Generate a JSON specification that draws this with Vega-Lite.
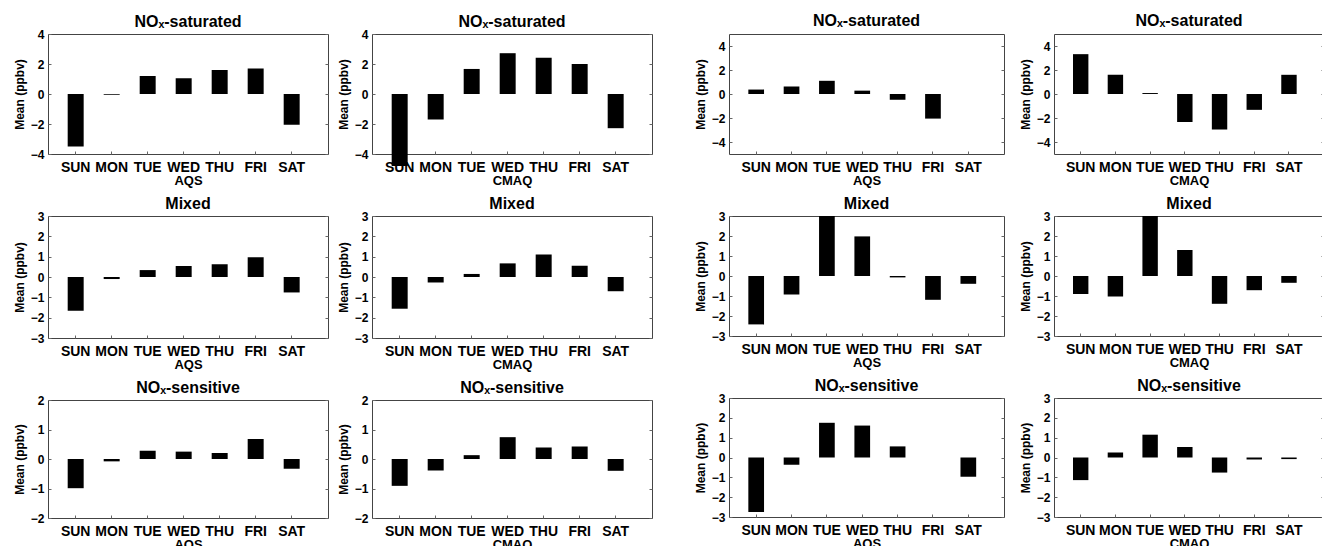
{
  "$schema": "https://vega.github.io/schema/vega-lite/v6.json",
  "padding": {"left": 12, "top": 12, "right": 0, "bottom": 0},
  "background": "white",
  "data": {"values": [
    {"fig":"L","src":"AQS","reg":"sat","day":"SUN","mean":-3.5},
    {"fig":"L","src":"AQS","reg":"sat","day":"MON","mean":-0.05},
    {"fig":"L","src":"AQS","reg":"sat","day":"TUE","mean":1.2},
    {"fig":"L","src":"AQS","reg":"sat","day":"WED","mean":1.05},
    {"fig":"L","src":"AQS","reg":"sat","day":"THU","mean":1.6},
    {"fig":"L","src":"AQS","reg":"sat","day":"FRI","mean":1.7},
    {"fig":"L","src":"AQS","reg":"sat","day":"SAT","mean":-2.05},
    {"fig":"L","src":"CMAQ","reg":"sat","day":"SUN","mean":-4.8},
    {"fig":"L","src":"CMAQ","reg":"sat","day":"MON","mean":-1.7},
    {"fig":"L","src":"CMAQ","reg":"sat","day":"TUE","mean":1.67},
    {"fig":"L","src":"CMAQ","reg":"sat","day":"WED","mean":2.72},
    {"fig":"L","src":"CMAQ","reg":"sat","day":"THU","mean":2.42},
    {"fig":"L","src":"CMAQ","reg":"sat","day":"FRI","mean":2.0},
    {"fig":"L","src":"CMAQ","reg":"sat","day":"SAT","mean":-2.28},
    {"fig":"R","src":"AQS","reg":"sat","day":"SUN","mean":0.37},
    {"fig":"R","src":"AQS","reg":"sat","day":"MON","mean":0.62},
    {"fig":"R","src":"AQS","reg":"sat","day":"TUE","mean":1.1},
    {"fig":"R","src":"AQS","reg":"sat","day":"WED","mean":0.28},
    {"fig":"R","src":"AQS","reg":"sat","day":"THU","mean":-0.48},
    {"fig":"R","src":"AQS","reg":"sat","day":"FRI","mean":-2.05},
    {"fig":"R","src":"CMAQ","reg":"sat","day":"SUN","mean":3.32},
    {"fig":"R","src":"CMAQ","reg":"sat","day":"MON","mean":1.6},
    {"fig":"R","src":"CMAQ","reg":"sat","day":"TUE","mean":0.08},
    {"fig":"R","src":"CMAQ","reg":"sat","day":"WED","mean":-2.34},
    {"fig":"R","src":"CMAQ","reg":"sat","day":"THU","mean":-2.96},
    {"fig":"R","src":"CMAQ","reg":"sat","day":"FRI","mean":-1.32},
    {"fig":"R","src":"CMAQ","reg":"sat","day":"SAT","mean":1.6},
    {"fig":"L","src":"AQS","reg":"mix","day":"SUN","mean":-1.66},
    {"fig":"L","src":"AQS","reg":"mix","day":"MON","mean":-0.1},
    {"fig":"L","src":"AQS","reg":"mix","day":"TUE","mean":0.34},
    {"fig":"L","src":"AQS","reg":"mix","day":"WED","mean":0.54},
    {"fig":"L","src":"AQS","reg":"mix","day":"THU","mean":0.63},
    {"fig":"L","src":"AQS","reg":"mix","day":"FRI","mean":0.97},
    {"fig":"L","src":"AQS","reg":"mix","day":"SAT","mean":-0.76},
    {"fig":"L","src":"CMAQ","reg":"mix","day":"SUN","mean":-1.56},
    {"fig":"L","src":"CMAQ","reg":"mix","day":"MON","mean":-0.27},
    {"fig":"L","src":"CMAQ","reg":"mix","day":"TUE","mean":0.15},
    {"fig":"L","src":"CMAQ","reg":"mix","day":"WED","mean":0.67},
    {"fig":"L","src":"CMAQ","reg":"mix","day":"THU","mean":1.11},
    {"fig":"L","src":"CMAQ","reg":"mix","day":"FRI","mean":0.55},
    {"fig":"L","src":"CMAQ","reg":"mix","day":"SAT","mean":-0.7},
    {"fig":"R","src":"AQS","reg":"mix","day":"SUN","mean":-2.42},
    {"fig":"R","src":"AQS","reg":"mix","day":"MON","mean":-0.93},
    {"fig":"R","src":"AQS","reg":"mix","day":"TUE","mean":3.0},
    {"fig":"R","src":"AQS","reg":"mix","day":"WED","mean":1.98},
    {"fig":"R","src":"AQS","reg":"mix","day":"THU","mean":-0.07},
    {"fig":"R","src":"AQS","reg":"mix","day":"FRI","mean":-1.19},
    {"fig":"R","src":"AQS","reg":"mix","day":"SAT","mean":-0.39},
    {"fig":"R","src":"CMAQ","reg":"mix","day":"SUN","mean":-0.9},
    {"fig":"R","src":"CMAQ","reg":"mix","day":"MON","mean":-1.02},
    {"fig":"R","src":"CMAQ","reg":"mix","day":"TUE","mean":3.0},
    {"fig":"R","src":"CMAQ","reg":"mix","day":"WED","mean":1.3},
    {"fig":"R","src":"CMAQ","reg":"mix","day":"THU","mean":-1.39},
    {"fig":"R","src":"CMAQ","reg":"mix","day":"FRI","mean":-0.71},
    {"fig":"R","src":"CMAQ","reg":"mix","day":"SAT","mean":-0.34},
    {"fig":"L","src":"AQS","reg":"sen","day":"SUN","mean":-0.99},
    {"fig":"L","src":"AQS","reg":"sen","day":"MON","mean":-0.08},
    {"fig":"L","src":"AQS","reg":"sen","day":"TUE","mean":0.28},
    {"fig":"L","src":"AQS","reg":"sen","day":"WED","mean":0.25},
    {"fig":"L","src":"AQS","reg":"sen","day":"THU","mean":0.2},
    {"fig":"L","src":"AQS","reg":"sen","day":"FRI","mean":0.68},
    {"fig":"L","src":"AQS","reg":"sen","day":"SAT","mean":-0.33},
    {"fig":"L","src":"CMAQ","reg":"sen","day":"SUN","mean":-0.91},
    {"fig":"L","src":"CMAQ","reg":"sen","day":"MON","mean":-0.39},
    {"fig":"L","src":"CMAQ","reg":"sen","day":"TUE","mean":0.13},
    {"fig":"L","src":"CMAQ","reg":"sen","day":"WED","mean":0.74},
    {"fig":"L","src":"CMAQ","reg":"sen","day":"THU","mean":0.39},
    {"fig":"L","src":"CMAQ","reg":"sen","day":"FRI","mean":0.42},
    {"fig":"L","src":"CMAQ","reg":"sen","day":"SAT","mean":-0.4},
    {"fig":"R","src":"AQS","reg":"sen","day":"SUN","mean":-2.75},
    {"fig":"R","src":"AQS","reg":"sen","day":"MON","mean":-0.37},
    {"fig":"R","src":"AQS","reg":"sen","day":"TUE","mean":1.75},
    {"fig":"R","src":"AQS","reg":"sen","day":"WED","mean":1.61},
    {"fig":"R","src":"AQS","reg":"sen","day":"THU","mean":0.56},
    {"fig":"R","src":"AQS","reg":"sen","day":"SAT","mean":-0.97},
    {"fig":"R","src":"CMAQ","reg":"sen","day":"SUN","mean":-1.14},
    {"fig":"R","src":"CMAQ","reg":"sen","day":"MON","mean":0.25},
    {"fig":"R","src":"CMAQ","reg":"sen","day":"TUE","mean":1.15},
    {"fig":"R","src":"CMAQ","reg":"sen","day":"WED","mean":0.53},
    {"fig":"R","src":"CMAQ","reg":"sen","day":"THU","mean":-0.76},
    {"fig":"R","src":"CMAQ","reg":"sen","day":"FRI","mean":-0.1},
    {"fig":"R","src":"CMAQ","reg":"sen","day":"SAT","mean":-0.08}
  ]},
  "spacing": 40,
  "hconcat": [
    {
      "spacing": 7,
      "hconcat": [
        {"spacing": 7, "vconcat": [
          {"width": 280, "height": 120, "title": "NOₓ-saturated",
           "transform": [{"filter": "datum.fig==='L' && datum.src==='AQS' && datum.reg==='sat'"}],
           "encoding": {
             "x": {"field": "day", "type": "nominal", "scale": {"domain": ["SUN","MON","TUE","WED","THU","FRI","SAT"], "paddingInner": 0.556, "paddingOuter": 0.667, "align": 0.41}, "axis": {"title": "AQS"}},
             "y": {"field": "mean", "type": "quantitative", "scale": {"domain": [-4, 4], "nice": false}, "axis": {"values": [-4,-2,0,2,4], "title": "Mean (ppbv)"}}
           },
           "layer": [
             {"mark": {"type": "bar", "color": "black"}},
             {"mark": {"type": "bar", "opacity": 0}, "encoding": {"y": {"field": "mean", "type": "quantitative", "axis": {"orient": "right", "values": [-4,-2,0,2,4], "labels": false, "title": null}}}}
           ],
           "resolve": {"axis": {"y": "independent"}}},
          {"width": 280, "height": 122, "title": "Mixed",
           "transform": [{"filter": "datum.fig==='L' && datum.src==='AQS' && datum.reg==='mix'"}],
           "encoding": {
             "x": {"field": "day", "type": "nominal", "scale": {"domain": ["SUN","MON","TUE","WED","THU","FRI","SAT"], "paddingInner": 0.556, "paddingOuter": 0.667, "align": 0.41}, "axis": {"title": "AQS"}},
             "y": {"field": "mean", "type": "quantitative", "scale": {"domain": [-3, 3], "nice": false}, "axis": {"values": [-3,-2,-1,0,1,2,3], "title": "Mean (ppbv)"}}
           },
           "layer": [
             {"mark": {"type": "bar", "color": "black"}},
             {"mark": {"type": "bar", "opacity": 0}, "encoding": {"y": {"field": "mean", "type": "quantitative", "axis": {"orient": "right", "values": [-3,-2,-1,0,1,2,3], "labels": false, "title": null}}}}
           ],
           "resolve": {"axis": {"y": "independent"}}},
          {"width": 280, "height": 118, "title": "NOₓ-sensitive",
           "transform": [{"filter": "datum.fig==='L' && datum.src==='AQS' && datum.reg==='sen'"}],
           "encoding": {
             "x": {"field": "day", "type": "nominal", "scale": {"domain": ["SUN","MON","TUE","WED","THU","FRI","SAT"], "paddingInner": 0.556, "paddingOuter": 0.667, "align": 0.41}, "axis": {"title": "AQS"}},
             "y": {"field": "mean", "type": "quantitative", "scale": {"domain": [-2, 2], "nice": false}, "axis": {"values": [-2,-1,0,1,2], "title": "Mean (ppbv)"}}
           },
           "layer": [
             {"mark": {"type": "bar", "color": "black"}},
             {"mark": {"type": "bar", "opacity": 0}, "encoding": {"y": {"field": "mean", "type": "quantitative", "axis": {"orient": "right", "values": [-2,-1,0,1,2], "labels": false, "title": null}}}}
           ],
           "resolve": {"axis": {"y": "independent"}}}
        ]},
        {"spacing": 7, "vconcat": [
          {"width": 280, "height": 120, "title": "NOₓ-saturated",
           "transform": [{"filter": "datum.fig==='L' && datum.src==='CMAQ' && datum.reg==='sat'"}],
           "encoding": {
             "x": {"field": "day", "type": "nominal", "scale": {"domain": ["SUN","MON","TUE","WED","THU","FRI","SAT"], "paddingInner": 0.556, "paddingOuter": 0.667, "align": 0.41}, "axis": {"title": "CMAQ"}},
             "y": {"field": "mean", "type": "quantitative", "scale": {"domain": [-4, 4], "nice": false}, "axis": {"values": [-4,-2,0,2,4], "title": "Mean (ppbv)"}}
           },
           "layer": [
             {"mark": {"type": "bar", "color": "black"}},
             {"mark": {"type": "bar", "opacity": 0}, "encoding": {"y": {"field": "mean", "type": "quantitative", "axis": {"orient": "right", "values": [-4,-2,0,2,4], "labels": false, "title": null}}}}
           ],
           "resolve": {"axis": {"y": "independent"}}},
          {"width": 280, "height": 122, "title": "Mixed",
           "transform": [{"filter": "datum.fig==='L' && datum.src==='CMAQ' && datum.reg==='mix'"}],
           "encoding": {
             "x": {"field": "day", "type": "nominal", "scale": {"domain": ["SUN","MON","TUE","WED","THU","FRI","SAT"], "paddingInner": 0.556, "paddingOuter": 0.667, "align": 0.41}, "axis": {"title": "CMAQ"}},
             "y": {"field": "mean", "type": "quantitative", "scale": {"domain": [-3, 3], "nice": false}, "axis": {"values": [-3,-2,-1,0,1,2,3], "title": "Mean (ppbv)"}}
           },
           "layer": [
             {"mark": {"type": "bar", "color": "black"}},
             {"mark": {"type": "bar", "opacity": 0}, "encoding": {"y": {"field": "mean", "type": "quantitative", "axis": {"orient": "right", "values": [-3,-2,-1,0,1,2,3], "labels": false, "title": null}}}}
           ],
           "resolve": {"axis": {"y": "independent"}}},
          {"width": 280, "height": 118, "title": "NOₓ-sensitive",
           "transform": [{"filter": "datum.fig==='L' && datum.src==='CMAQ' && datum.reg==='sen'"}],
           "encoding": {
             "x": {"field": "day", "type": "nominal", "scale": {"domain": ["SUN","MON","TUE","WED","THU","FRI","SAT"], "paddingInner": 0.556, "paddingOuter": 0.667, "align": 0.41}, "axis": {"title": "CMAQ"}},
             "y": {"field": "mean", "type": "quantitative", "scale": {"domain": [-2, 2], "nice": false}, "axis": {"values": [-2,-1,0,1,2], "title": "Mean (ppbv)"}}
           },
           "layer": [
             {"mark": {"type": "bar", "color": "black"}},
             {"mark": {"type": "bar", "opacity": 0}, "encoding": {"y": {"field": "mean", "type": "quantitative", "axis": {"orient": "right", "values": [-2,-1,0,1,2], "labels": false, "title": null}}}}
           ],
           "resolve": {"axis": {"y": "independent"}}}
        ]}
      ]
    },
    {
      "spacing": 13,
      "hconcat": [
        {"spacing": 7, "vconcat": [
          {"width": 275, "height": 120, "title": {"text": "NOₓ-saturated", "offset": 5},
           "transform": [{"filter": "datum.fig==='R' && datum.src==='AQS' && datum.reg==='sat'"}],
           "encoding": {
             "x": {"field": "day", "type": "nominal", "scale": {"domain": ["SUN","MON","TUE","WED","THU","FRI","SAT"], "paddingInner": 0.556, "paddingOuter": 0.667, "align": 0.41}, "axis": {"title": "AQS"}},
             "y": {"field": "mean", "type": "quantitative", "scale": {"domain": [-5, 5], "nice": false}, "axis": {"values": [-4,-2,0,2,4], "title": "Mean (ppbv)"}}
           },
           "layer": [
             {"mark": {"type": "bar", "color": "black"}},
             {"mark": {"type": "bar", "opacity": 0}, "encoding": {"y": {"field": "mean", "type": "quantitative", "axis": {"orient": "right", "values": [-4,-2,0,2,4], "labels": false, "title": null}}}}
           ],
           "resolve": {"axis": {"y": "independent"}}},
          {"width": 275, "height": 120, "title": "Mixed",
           "transform": [{"filter": "datum.fig==='R' && datum.src==='AQS' && datum.reg==='mix'"}],
           "encoding": {
             "x": {"field": "day", "type": "nominal", "scale": {"domain": ["SUN","MON","TUE","WED","THU","FRI","SAT"], "paddingInner": 0.556, "paddingOuter": 0.667, "align": 0.41}, "axis": {"title": "AQS"}},
             "y": {"field": "mean", "type": "quantitative", "scale": {"domain": [-3, 3], "nice": false}, "axis": {"values": [-3,-2,-1,0,1,2,3], "title": "Mean (ppbv)"}}
           },
           "layer": [
             {"mark": {"type": "bar", "color": "black"}},
             {"mark": {"type": "bar", "opacity": 0}, "encoding": {"y": {"field": "mean", "type": "quantitative", "axis": {"orient": "right", "values": [-3,-2,-1,0,1,2,3], "labels": false, "title": null}}}}
           ],
           "resolve": {"axis": {"y": "independent"}}},
          {"width": 275, "height": 119, "title": "NOₓ-sensitive",
           "transform": [{"filter": "datum.fig==='R' && datum.src==='AQS' && datum.reg==='sen'"}],
           "encoding": {
             "x": {"field": "day", "type": "nominal", "scale": {"domain": ["SUN","MON","TUE","WED","THU","FRI","SAT"], "paddingInner": 0.556, "paddingOuter": 0.667, "align": 0.41}, "axis": {"title": "AQS"}},
             "y": {"field": "mean", "type": "quantitative", "scale": {"domain": [-3, 3], "nice": false}, "axis": {"values": [-3,-2,-1,0,1,2,3], "title": "Mean (ppbv)"}}
           },
           "layer": [
             {"mark": {"type": "bar", "color": "black"}},
             {"mark": {"type": "bar", "opacity": 0}, "encoding": {"y": {"field": "mean", "type": "quantitative", "axis": {"orient": "right", "values": [-3,-2,-1,0,1,2,3], "labels": false, "title": null}}}}
           ],
           "resolve": {"axis": {"y": "independent"}}}
        ]},
        {"spacing": 7, "vconcat": [
          {"width": 270, "height": 120, "title": {"text": "NOₓ-saturated", "offset": 5},
           "transform": [{"filter": "datum.fig==='R' && datum.src==='CMAQ' && datum.reg==='sat'"}],
           "encoding": {
             "x": {"field": "day", "type": "nominal", "scale": {"domain": ["SUN","MON","TUE","WED","THU","FRI","SAT"], "paddingInner": 0.556, "paddingOuter": 0.667, "align": 0.41}, "axis": {"title": "CMAQ"}},
             "y": {"field": "mean", "type": "quantitative", "scale": {"domain": [-5, 5], "nice": false}, "axis": {"values": [-4,-2,0,2,4], "title": "Mean (ppbv)"}}
           },
           "layer": [
             {"mark": {"type": "bar", "color": "black"}},
             {"mark": {"type": "bar", "opacity": 0}, "encoding": {"y": {"field": "mean", "type": "quantitative", "axis": {"orient": "right", "values": [-4,-2,0,2,4], "labels": false, "title": null}}}}
           ],
           "resolve": {"axis": {"y": "independent"}}},
          {"width": 270, "height": 120, "title": "Mixed",
           "transform": [{"filter": "datum.fig==='R' && datum.src==='CMAQ' && datum.reg==='mix'"}],
           "encoding": {
             "x": {"field": "day", "type": "nominal", "scale": {"domain": ["SUN","MON","TUE","WED","THU","FRI","SAT"], "paddingInner": 0.556, "paddingOuter": 0.667, "align": 0.41}, "axis": {"title": "CMAQ"}},
             "y": {"field": "mean", "type": "quantitative", "scale": {"domain": [-3, 3], "nice": false}, "axis": {"values": [-3,-2,-1,0,1,2,3], "title": "Mean (ppbv)"}}
           },
           "layer": [
             {"mark": {"type": "bar", "color": "black"}},
             {"mark": {"type": "bar", "opacity": 0}, "encoding": {"y": {"field": "mean", "type": "quantitative", "axis": {"orient": "right", "values": [-3,-2,-1,0,1,2,3], "labels": false, "title": null}}}}
           ],
           "resolve": {"axis": {"y": "independent"}}},
          {"width": 270, "height": 119, "title": "NOₓ-sensitive",
           "transform": [{"filter": "datum.fig==='R' && datum.src==='CMAQ' && datum.reg==='sen'"}],
           "encoding": {
             "x": {"field": "day", "type": "nominal", "scale": {"domain": ["SUN","MON","TUE","WED","THU","FRI","SAT"], "paddingInner": 0.556, "paddingOuter": 0.667, "align": 0.41}, "axis": {"title": "CMAQ"}},
             "y": {"field": "mean", "type": "quantitative", "scale": {"domain": [-3, 3], "nice": false}, "axis": {"values": [-3,-2,-1,0,1,2,3], "title": "Mean (ppbv)"}}
           },
           "layer": [
             {"mark": {"type": "bar", "color": "black"}},
             {"mark": {"type": "bar", "opacity": 0}, "encoding": {"y": {"field": "mean", "type": "quantitative", "axis": {"orient": "right", "values": [-3,-2,-1,0,1,2,3], "labels": false, "title": null}}}}
           ],
           "resolve": {"axis": {"y": "independent"}}}
        ]}
      ]
    }
  ],
  "config": {
    "font": "Liberation Sans",
    "view": {"stroke": "#444", "strokeWidth": 1},
    "axis": {"domain": false, "grid": false, "tickColor": "#666", "tickSize": -3, "labelColor": "black", "labelFontWeight": "bold", "titleColor": "black", "titleFontWeight": "bold", "labelFont": "Liberation Sans", "titleFont": "Liberation Sans"},
    "axisX": {"labelAngle": 0, "labelFontSize": 14, "labelPadding": 9, "titleFontSize": 13, "titlePadding": 0},
    "axisY": {"labelFontSize": 12, "labelPadding": 7, "titleFontSize": 12, "titlePadding": 4},
    "title": {"fontSize": 16, "fontWeight": "bold", "color": "black", "font": "Liberation Sans", "offset": -2, "frame": "group"},
    "bar": {"color": "black"}
  }
}
